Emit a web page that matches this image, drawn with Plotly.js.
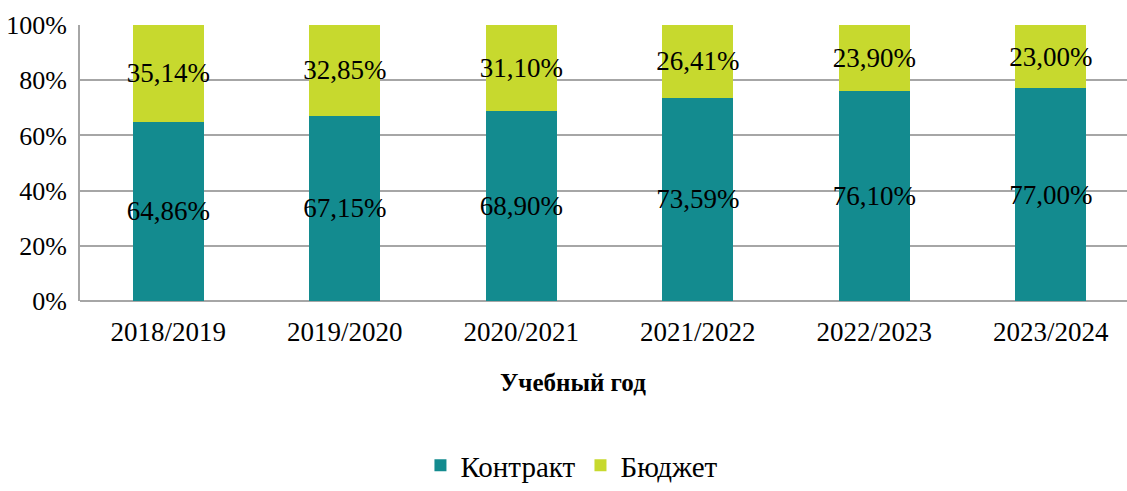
<!DOCTYPE html>
<html>
<head>
<meta charset="utf-8">
<script src="https://cdn.plot.ly/plotly-3.0.1.min.js"></script>
<style>html,body{margin:0;padding:0;background:#fff;}#chart{width:1127px;height:491px;}</style>
</head>
<body>
<div id="chart"></div>
<script>
const years = ["2018/2019", "2019/2020", "2020/2021", "2021/2022", "2022/2023", "2023/2024"];
const contract = [64.86, 67.15, 68.90, 73.59, 76.10, 77.00];
const budget = [35.14, 32.85, 31.10, 26.41, 23.90, 23.00];
const seriesNames = ["Контракт", "Бюджет"];
const yTicks = [0, 20, 40, 60, 80, 100];
const xTitle = "Учебный год";

const fmt = v => v.toFixed(2).replace('.', ',') + '%';
const FONT = 'Liberation Serif';

const common = {
  type: 'bar',
  x: years,
  width: 0.4,
  textposition: 'inside',
  insidetextanchor: 'middle',
  textangle: 0,
  constraintext: 'none',
  textfont: {family: FONT, size: 27, color: '#000'},
  hoverinfo: 'none'
};

const traces = [
  Object.assign({}, common, {
    name: seriesNames[0], y: contract, text: contract.map(fmt),
    marker: {color: '#138B8F'}
  }),
  Object.assign({}, common, {
    name: seriesNames[1], y: budget, text: budget.map(fmt),
    marker: {color: '#C7D92E'}
  })
];

const layout = {
  width: 1127, height: 491,
  barmode: 'stack',
  margin: {l: 80, r: 0, t: 25, b: 190},
  paper_bgcolor: '#fff', plot_bgcolor: '#fff',
  font: {family: FONT, size: 26, color: '#000'},
  xaxis: {
    type: 'category',
    range: [-0.5, 5.432],
    showgrid: false,
    showline: false,
    ticks: '',
    ticklabelstandoff: 12,
    tickfont: {family: FONT, size: 27, color: '#000'}
  },
  yaxis: {
    range: [0, 100],
    tickvals: yTicks,
    ticktext: yTicks.map(v => v + '%'),
    showgrid: true,
    gridcolor: '#A6A6A6',
    gridwidth: 2,
    zeroline: true,
    zerolinecolor: '#A6A6A6',
    zerolinewidth: 2,
    showline: true,
    linecolor: '#A6A6A6',
    linewidth: 2,
    ticks: '',
    ticklabelstandoff: 6,
    tickfont: {family: FONT, size: 26, color: '#000'}
  },
  annotations: [{
    text: '<b>' + xTitle + '</b>',
    xref: 'paper', yref: 'paper',
    x: 0.471, y: -0.297,
    xanchor: 'center', yanchor: 'middle',
    showarrow: false,
    font: {family: FONT, size: 25, color: '#000'}
  }],
  legend: {
    orientation: 'h',
    x: 0.5075, xref: 'container', xanchor: 'center',
    y: 0, yref: 'container', yanchor: 'bottom',
    font: {family: FONT, size: 29, color: '#000'},
    itemwidth: 30,
    traceorder: 'normal'
  },
  showlegend: true
};

Plotly.newPlot('chart', traces, layout, {displayModeBar: false, staticPlot: true});
</script>
</body>
</html>
